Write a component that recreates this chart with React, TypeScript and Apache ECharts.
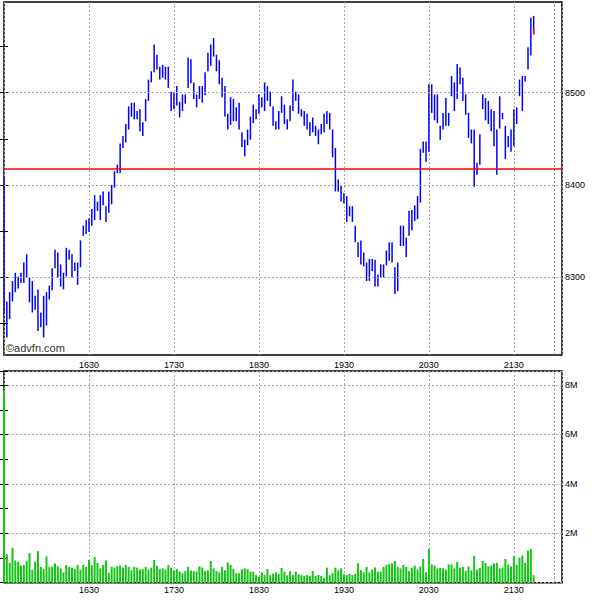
import React, { useEffect, useRef } from 'react';
import * as echarts from 'echarts';

// session starts 15:30, one bar every 2 minutes
const sessionStartMinutes = 15 * 60 + 30;
const barMinutes = 2;

const priceHigh = [
  8409, 8274, 8284, 8296, 8305, 8301, 8305, 8316, 8325, 8300,
  8296, 8280, 8287, 8262, 8280, 8284, 8291, 8310, 8330, 8327,
  8314, 8305, 8332, 8330, 8325, 8316, 8316, 8340, 8356, 8362,
  8364, 8374, 8389, 8382, 8389, 8393, 8377, 8393, 8400, 8415,
  8422, 8445, 8453, 8466, 8485, 8489, 8489, 8480, 8482, 8468,
  8493, 8514, 8523, 8552, 8541, 8528, 8530, 8528, 8528, 8501,
  8500, 8507, 8490, 8498, 8498, 8538, 8536, 8511, 8498, 8507,
  8507, 8522, 8543, 8552, 8559, 8541, 8535, 8516, 8507, 8477,
  8495, 8493, 8484, 8489, 8457, 8449, 8460, 8474, 8487, 8482,
  8498, 8495, 8511, 8507, 8501, 8485, 8469, 8480, 8496, 8487,
  8471, 8486, 8514, 8501, 8498, 8482, 8480, 8477, 8468, 8473,
  8464, 8460, 8466, 8477, 8480, 8478, 8460, 8440, 8406, 8400,
  8391, 8388, 8377, 8377, 8356, 8338, 8340, 8327, 8316, 8320,
  8320, 8319, 8303, 8314, 8314, 8329, 8338, 8338, 8311, 8316,
  8356, 8356, 8343, 8372, 8373, 8378, 8388, 8439, 8447, 8447,
  8509, 8509, 8498, 8498, 8464, 8478, 8494, 8478, 8518, 8511,
  8531, 8527, 8516, 8498, 8478, 8460, 8460, 8424, 8455, 8498,
  8494, 8491, 8482, 8480, 8460, 8496, 8478, 8464, 8453, 8460,
  8482, 8484, 8514, 8518, 8518, 8549, 8581, 8583,
];

const priceLow = [
  8262, 8235, 8255, 8274, 8284, 8288, 8294, 8294, 8300, 8273,
  8262, 8265, 8242, 8246, 8235, 8248, 8276, 8286, 8310, 8300,
  8290, 8287, 8301, 8319, 8300, 8307, 8292, 8311, 8345, 8347,
  8349, 8356, 8362, 8372, 8362, 8378, 8360, 8370, 8379, 8397,
  8413, 8413, 8440, 8446, 8460, 8474, 8471, 8471, 8458, 8453,
  8469, 8491, 8511, 8522, 8525, 8514, 8516, 8514, 8505, 8480,
  8482, 8486, 8473, 8480, 8488, 8505, 8510, 8493, 8484, 8493,
  8489, 8497, 8523, 8529, 8539, 8523, 8509, 8495, 8474, 8460,
  8465, 8469, 8469, 8460, 8441, 8431, 8443, 8449, 8467, 8471,
  8477, 8484, 8480, 8491, 8485, 8464, 8460, 8460, 8478, 8466,
  8460, 8469, 8480, 8491, 8477, 8474, 8464, 8460, 8453, 8457,
  8453, 8444, 8455, 8457, 8466, 8460, 8430, 8393, 8393, 8382,
  8380, 8360, 8366, 8360, 8338, 8322, 8314, 8312, 8296, 8296,
  8307, 8290, 8290, 8300, 8300, 8313, 8318, 8316, 8282, 8285,
  8334, 8334, 8322, 8345, 8351, 8361, 8363, 8381, 8435, 8425,
  8436, 8478, 8470, 8467, 8449, 8460, 8464, 8464, 8496, 8480,
  8493, 8509, 8491, 8476, 8451, 8445, 8398, 8411, 8422, 8482,
  8470, 8466, 8458, 8442, 8411, 8461, 8471, 8428, 8441, 8436,
  8442, 8466, 8496, 8480, 8512, 8525, 8540, 8563,
];

// volume in millions of shares
const volumeM = [
  7.8, 1.15, 0.8, 1.42, 0.9, 0.85, 0.69, 0.72, 0.88, 1.2,
  0.52, 0.85, 1.28, 0.64, 0.55, 1.07, 0.64, 0.65, 0.78, 0.66,
  0.58, 0.42, 0.72, 0.64, 0.61, 0.55, 0.72, 0.52, 0.72, 0.64,
  0.92, 0.7, 1.04, 0.8, 0.58, 0.72, 0.9, 0.4, 0.64, 0.61,
  0.66, 0.69, 0.61, 0.72, 0.64, 0.5, 0.64, 0.61, 0.53, 0.55,
  0.64, 0.53, 0.61, 0.92, 0.69, 0.55, 0.58, 0.53, 0.72, 0.61,
  0.5, 0.55, 0.45, 0.38, 0.47, 0.64, 0.5, 0.47, 0.45, 0.66,
  0.61, 0.47, 0.5, 0.88, 0.58, 0.47, 0.42, 0.64, 0.5, 0.82,
  0.72, 0.55, 0.38, 0.38, 0.54, 0.58, 0.55, 0.45, 0.45, 0.31,
  0.24, 0.42, 0.31, 0.55, 0.31, 0.36, 0.42, 0.34, 0.6, 0.45,
  0.3, 0.47, 0.31, 0.45, 0.34, 0.3, 0.28, 0.31, 0.27, 0.47,
  0.28, 0.31, 0.28, 0.18, 0.61, 0.3, 0.39, 0.61, 0.5, 0.58,
  0.34, 0.31, 0.35, 0.31, 0.36, 0.78, 0.51, 0.42, 0.64, 0.42,
  0.53, 0.62, 0.45, 0.45, 0.64, 0.72, 0.75, 0.78, 0.88, 0.64,
  0.58, 0.72, 0.64, 0.47, 0.61, 0.69, 0.53, 0.66, 0.96, 0.42,
  1.36, 0.74, 0.69, 0.58, 0.6, 0.58, 0.53, 0.74, 0.74, 0.58,
  0.85, 0.61, 0.64, 0.47, 0.66, 0.5, 1.09, 0.53, 0.6, 0.88,
  0.8, 0.66, 0.69, 0.78, 0.8, 0.58, 0.61, 0.96, 0.74, 0.66,
  1.07, 0.72, 1.01, 1.1, 0.8, 1.3, 1.36, 0.3,
];

const lastBarOpenClose = [8569, 8563];
const previousClose = 8418;
const sessionEndMarker = 388.5; // minutes after 15:30

const xTickLabels = ['1630', '1730', '1830', '1930', '2030', '2130'];
const priceTickLabels = [8300, 8400, 8500];
const priceTickMarks = [8250, 8300, 8350, 8400, 8450, 8500, 8550];
const volumeTickLabels = ['2M', '4M', '6M', '8M'];

const FONT = 'Liberation Sans';
const gridLineStyle = { color: '#a0a8a8', type: [2, 2] as any, width: 1 };

export default function App() {
  const ref = useRef<HTMLDivElement>(null);

  useEffect(() => {
    document.body.style.margin = '0';
    const chart = echarts.init(ref.current!, null, { renderer: 'svg' });

    const times = priceHigh.map((_, i) => i * barMinutes);
    const priceData = times.map((t, i) => [t, priceHigh[i], priceLow[i]]);
    const volData = times.map((t, i) => [t, volumeM[i] * 1e6]);
    const lastT = times[times.length - 1];

    const xFormatter = (v: number) => {
      if (v <= 0 || v % 60 !== 0) return '';
      const idx = v / 60 - 1;
      return xTickLabels[idx] ?? '';
    };

    const makeX = (gridIndex: number, margin: number) => ({
      type: 'value',
      gridIndex,
      min: 0,
      max: 394,
      interval: 60,
      axisLine: { show: false },
      axisTick: { show: false },
      axisLabel: {
        formatter: xFormatter,
        color: '#000',
        fontSize: 9,
        fontFamily: FONT,
        margin,
        showMinLabel: false,
        showMaxLabel: false,
      },
      splitLine: { show: true, lineStyle: gridLineStyle },
    });

    const priceAxis = (position: 'left' | 'right', labels: boolean) => ({
      type: 'value',
      gridIndex: 0,
      position,
      min: 8216,
      max: 8598,
      axisLine: { show: false },
      axisTick: {
        show: true,
        inside: true,
        length: 4,
        customValues: priceTickMarks,
        lineStyle: { color: '#000' },
      },
      axisLabel: labels
        ? {
            show: true,
            customValues: priceTickLabels,
            formatter: (v: number) => String(Math.round(v)),
            color: '#000',
            fontSize: 9,
            fontFamily: FONT,
            margin: 3,
          }
        : { show: false },
      splitLine: { show: false },
    });

    const volAxis = (position: 'left' | 'right', labels: boolean) => ({
      type: 'value',
      gridIndex: 1,
      position,
      min: 0,
      max: 8.57e6,
      interval: 2e6,
      axisLine: { show: false },
      axisTick: { show: true, inside: true, length: 4, lineStyle: { color: '#000' } },
      minorTick: { show: true, splitNumber: 2, length: 4, lineStyle: { color: '#000' } },
      axisLabel: labels
        ? {
            show: true,
            color: '#000',
            fontSize: 9,
            fontFamily: FONT,
            margin: 3,
            showMaxLabel: false,
            formatter: (v: number) =>
              v > 0 && Math.abs(v % 2e6) < 1 ? volumeTickLabels[Math.round(v / 2e6) - 1] ?? '' : '',
          }
        : { show: false },
      splitLine: { show: labels, lineStyle: gridLineStyle },
    });

    const hlRender = (color: string) => (params: any, api: any) => {
      const x = api.value(0);
      const p1 = api.coord([x, api.value(1)]);
      const p2 = api.coord([x, api.value(2)]);
      return {
        type: 'line',
        shape: { x1: p1[0], y1: p1[1], x2: p2[0], y2: p2[1] },
        style: { stroke: color, lineWidth: 1.5 },
      };
    };

    const option: any = {
      animation: false,
      backgroundColor: '#fff',
      grid: [
        { left: 4, right: 38, top: 2, height: 353, show: true, borderColor: '#000', borderWidth: 1.5, backgroundColor: '#fff' },
        { left: 4, right: 38, top: 371, height: 211.7, show: true, borderColor: '#000', borderWidth: 1.5, backgroundColor: '#fff' },
      ],
      xAxis: [makeX(0, 5), makeX(1, 3)],
      yAxis: [priceAxis('right', true), priceAxis('left', false), volAxis('right', true), volAxis('left', false)],
      graphic: [
        {
          type: 'text',
          left: 6,
          top: 342,
          style: { text: '©advfn.com', fill: '#333', font: `11px "${FONT}"` },
          z: 100,
        },
      ],
      series: [
        {
          type: 'line',
          xAxisIndex: 0,
          yAxisIndex: 0,
          data: [],
          z: 1,
          silent: true,
          markLine: {
            silent: true,
            symbol: ['none', 'none'],
            label: { show: false },
            lineStyle: gridLineStyle,
            data: [
              ...priceTickLabels.map((v) => ({ yAxis: v })),
              { xAxis: sessionEndMarker, lineStyle: { color: '#7a8a8a', type: [2, 2], width: 1 } },
              { yAxis: previousClose, lineStyle: { color: '#ff0000', type: 'solid', width: 1.5 } },
            ],
          },
        },
        {
          type: 'custom',
          xAxisIndex: 0,
          yAxisIndex: 0,
          z: 3,
          clip: true,
          encode: { x: 0, y: [1, 2] },
          data: priceData,
          renderItem: hlRender('#0000ff'),
        },
        {
          type: 'custom',
          xAxisIndex: 0,
          yAxisIndex: 0,
          z: 4,
          clip: true,
          encode: { x: 0, y: [1, 2] },
          data: [[lastT, lastBarOpenClose[0], lastBarOpenClose[1]]],
          renderItem: hlRender('#ff0000'),
        },
        {
          type: 'bar',
          xAxisIndex: 1,
          yAxisIndex: 2,
          barWidth: 2,
          z: 3,
          data: volData,
          itemStyle: { color: '#16c416' },
          markLine: {
            silent: true,
            symbol: ['none', 'none'],
            label: { show: false },
            data: [{ xAxis: sessionEndMarker, lineStyle: { color: '#7a8a8a', type: [2, 2], width: 1 } }],
          },
        },
      ],
    };

    chart.setOption(option);
    return () => chart.dispose();
  }, []);

  return <div ref={ref} style={{ width: 600, height: 600 }} />;
}
